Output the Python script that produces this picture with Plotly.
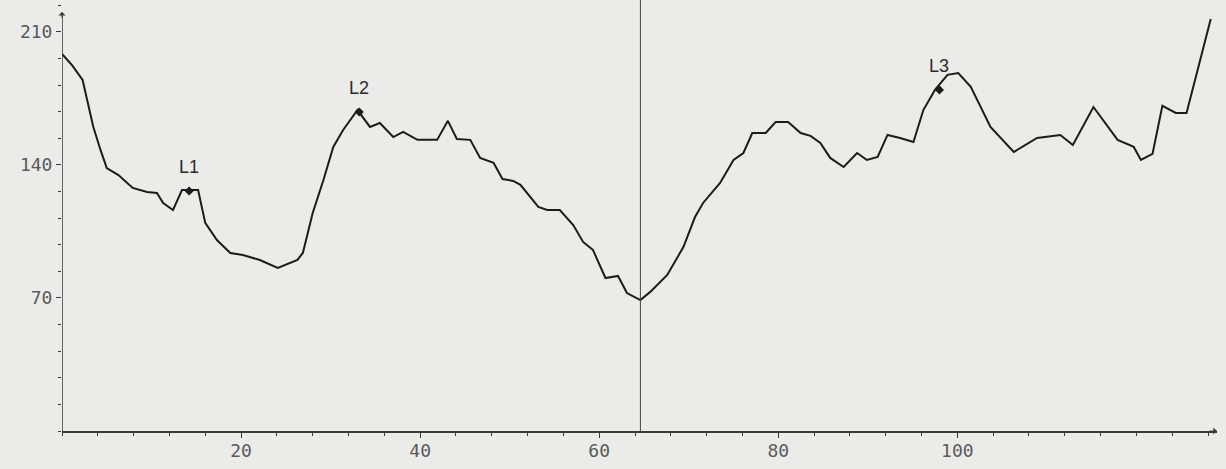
import plotly.graph_objects as go

# ---- data ----
x_vals = [0.0, 1.1, 2.3, 2.9, 3.5, 4.3, 5.0, 6.3, 7.9, 9.5, 10.6, 11.3, 12.4, 13.4, 14.5,
          15.2, 16.0, 17.3, 18.8, 20.2, 22.1, 24.1, 26.3, 26.9, 28.0, 29.2, 30.3, 31.4,
          33.0, 34.4, 35.5, 37.0, 38.1, 39.7, 41.9, 43.1, 44.1, 45.6, 46.7, 48.2, 49.2,
          50.4, 51.2, 52.3, 53.2, 54.2, 55.6, 57.1, 58.2, 59.3, 60.7, 62.1, 63.1, 64.6,
          65.7, 67.6, 69.4, 70.7, 71.6, 73.5, 75.0, 76.1, 77.1, 78.6, 79.7, 81.1, 82.5,
          83.6, 84.7, 85.8, 87.3, 88.8, 89.9, 91.1, 92.2, 93.6, 95.1, 96.2, 97.5, 98.9,
          100.1, 101.5, 103.7, 106.3, 108.9, 111.5, 112.9, 115.2, 117.9, 119.7, 120.5,
          121.8, 122.9, 124.4, 125.6, 128.3]
y_vals = [198.4, 192.6, 184.7, 172.6, 160.0, 147.9, 138.4, 134.7, 127.9, 125.8, 125.3,
          120.0, 116.3, 126.8, 126.8, 126.8, 109.5, 100.5, 93.7, 92.6, 90.0, 85.8, 90.0,
          93.7, 114.7, 132.1, 149.5, 158.4, 168.9, 160.0, 162.1, 154.7, 157.4, 153.2,
          153.2, 163.2, 153.7, 153.2, 143.7, 141.1, 132.6, 131.6, 129.5, 123.2, 117.9,
          116.3, 116.3, 108.4, 99.5, 95.3, 80.5, 81.6, 72.6, 68.9, 73.2, 82.1, 96.8,
          112.6, 120.0, 130.5, 142.6, 146.3, 156.8, 156.8, 162.6, 162.6, 156.8, 155.3,
          151.6, 143.7, 138.9, 146.3, 142.6, 144.2, 155.8, 154.2, 152.1, 168.9, 179.5,
          187.4, 188.4, 181.1, 160.0, 146.8, 154.2, 155.8, 150.5, 170.5, 153.2, 149.5,
          142.6, 145.8, 171.1, 167.4, 167.4, 216.8]

mark_labels = ["L1", "L2", "L3"]
mark_x = [14.2, 33.2, 98.0]
mark_y = [126.3, 167.9, 179.5]

cursor_x = 64.6

x_ticks = [20, 40, 60, 80, 100]
y_ticks = [70, 140, 210]

X_MAX = 129
Y_MAX = 226.8
Y_AXIS_TOP = 220.5

BG = "#ebebea"
INK = "#1c1c1c"
AXIS = "#3a3a3a"
TICKFONT = dict(family="DejaVu Sans Mono", size=18, color="#5a5a5a")

fig = go.Figure()

fig.add_trace(go.Scatter(
    x=x_vals, y=y_vals, mode="lines",
    line=dict(color=INK, width=2), hoverinfo="skip", showlegend=False))

fig.add_trace(go.Scatter(
    x=mark_x, y=mark_y, mode="markers",
    marker=dict(symbol="diamond", size=7, color=INK),
    showlegend=False, hoverinfo="skip"))

for lab, mx, my in zip(mark_labels, mark_x, mark_y):
    fig.add_annotation(x=mx, y=my, text=lab, showarrow=False, yshift=24,
                       font=dict(family="Liberation Sans", size=18, color="#2a2a2a"))

# cursor line
fig.add_shape(type="line", xref="x", yref="paper", x0=cursor_x, x1=cursor_x, y0=0, y1=1,
              line=dict(color="#444444", width=1))

# y axis line with arrow
fig.add_shape(type="line", xref="x", yref="y", x0=0, x1=0, y0=0, y1=Y_AXIS_TOP,
              line=dict(color=AXIS, width=1.5))
fig.add_annotation(x=0, y=Y_AXIS_TOP, ax=0, ay=Y_AXIS_TOP - 4, xref="x", yref="y",
                   axref="x", ayref="y", showarrow=True, arrowhead=1, arrowsize=1.2,
                   arrowwidth=1, arrowcolor=AXIS, text="")
# x axis arrow
fig.add_annotation(x=X_MAX, y=0, ax=X_MAX - 1, ay=0, xref="x", yref="y",
                   axref="x", ayref="y", showarrow=True, arrowhead=1, arrowsize=1.2,
                   arrowwidth=1, arrowcolor=AXIS, text="")

fig.update_layout(
    width=1226, height=469,
    margin=dict(l=62, r=9, t=0, b=38, autoexpand=False),
    paper_bgcolor=BG, plot_bgcolor=BG,
    xaxis=dict(range=[0, X_MAX], tickvals=x_ticks, showgrid=False, zeroline=False,
               automargin=False,
               showline=True, linecolor=AXIS, linewidth=2,
               ticks="outside", ticklen=5, tickwidth=1, tickcolor=AXIS,
               ticklabelstandoff=-3,
               minor=dict(dtick=4, tick0=0, ticks="outside", ticklen=3, tickcolor=AXIS),
               tickfont=TICKFONT),
    yaxis=dict(range=[0, Y_MAX], tickvals=y_ticks, showgrid=False, zeroline=False,
               automargin=False, showline=False,
               ticks="outside", ticklen=5, tickwidth=1, tickcolor=AXIS,
               minor=dict(dtick=14, tick0=0, ticks="outside", ticklen=3, tickcolor=AXIS),
               tickfont=TICKFONT),
)

fig.write_html(
    "out.html",
    config={"displayModeBar": False},
    post_script="document.body.style.margin='0';document.body.style.padding='0';"
                "document.body.style.background='" + BG + "';",
)
